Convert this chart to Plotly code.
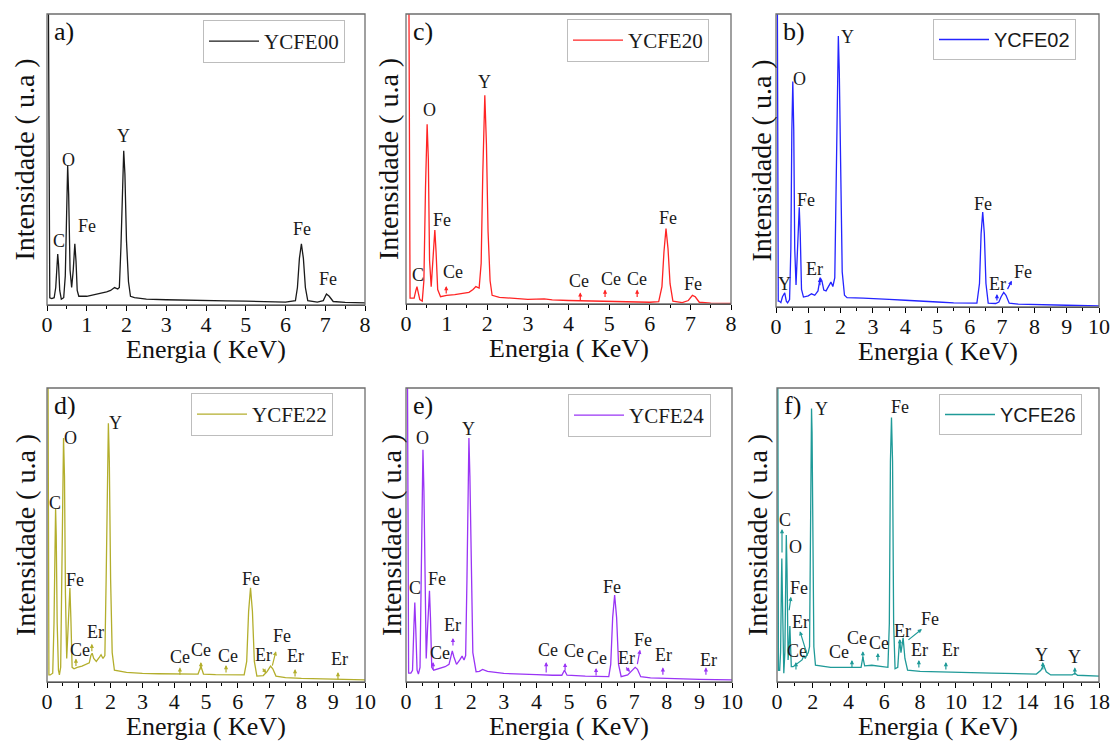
import plotly.graph_objects as go

W, H = 1113, 749

# ---------------- data (energy in KeV, intensity in % of panel height) ----------------
E_00 = [0.02, 0.07, 0.12, 0.18, 0.22, 0.25, 0.27, 0.29, 0.32, 0.36, 0.42, 0.46, 0.49, 0.52, 0.545, 0.58, 0.62, 0.66, 0.70, 0.73, 0.76, 0.8,
        1.0, 1.2, 1.4, 1.5, 1.6, 1.7, 1.78, 1.82, 1.86, 1.9, 1.93, 1.96, 2.0, 2.05, 2.1, 2.2, 2.5, 3.0, 3.5, 4.0, 4.5, 5.0, 5.5, 6.0,
        6.25, 6.3, 6.35, 6.4, 6.45, 6.5, 6.56, 6.8, 6.95, 7.03, 7.1, 7.2, 7.5, 8.0]
I_00 = [150, 2.5, 2.2, 2.5, 6, 15, 17.5, 14, 5, 2, 2.5, 10, 36, 48, 38, 12, 6, 12, 21, 15, 5, 3,
        3, 3.5, 4, 4.5, 5, 6, 5.5, 6, 20, 45, 53, 45, 22, 8, 3, 2.5, 2, 1.8, 1.6, 1.5, 1.4, 1.3, 1.2, 1.0,
        1.5, 6, 16, 21, 16, 6, 1.5, 1.0, 1.5, 3.8, 3, 1.2, 0.9, 0.7]

E_20 = [0.06, 0.1, 0.15, 0.2, 0.24, 0.27, 0.3, 0.34, 0.4, 0.44, 0.48, 0.52, 0.55, 0.58, 0.62, 0.66, 0.71, 0.74, 0.78, 0.85,
        1.0, 1.2, 1.4, 1.55, 1.65, 1.72, 1.8, 1.85, 1.89, 1.94, 1.98, 2.02, 2.07, 2.12, 2.3, 2.7, 3.0, 3.4, 3.6, 4.0, 4.5, 5.0, 5.5, 6.0,
        6.22, 6.3, 6.35, 6.4, 6.45, 6.5, 6.57, 6.8, 6.95, 7.05, 7.12, 7.22, 7.5, 8.0]
I_20 = [150, 2, 2, 2, 4.5, 6, 4, 1.5, 1, 8, 40, 62, 50, 15, 6, 15, 25.5, 18, 5, 2.5,
        3, 3.2, 3.6, 4, 5, 6, 5.5, 14, 45, 72, 55, 25, 8, 3, 2.3, 2, 1.6, 1.8, 1.4, 1.2, 1.0, 0.9, 0.8, 0.6,
        0.8, 6, 18, 26, 19, 7, 1, 0.5, 1.2, 3, 2.5, 0.6, 0.3, 0.2]

E_02 = [0.03, 0.07, 0.1, 0.15, 0.2, 0.27, 0.32, 0.36, 0.42, 0.46, 0.49, 0.52, 0.55, 0.58, 0.62, 0.67, 0.72, 0.75, 0.79, 0.85,
        1.0, 1.1, 1.2, 1.3, 1.37, 1.42, 1.48, 1.55, 1.65, 1.7, 1.76, 1.82, 1.86, 1.9, 1.93, 1.96, 2.0, 2.05, 2.12, 2.2, 2.7, 3.0, 3.5,
        4.0, 4.5, 5.0, 5.5, 6.0, 6.22, 6.3, 6.35, 6.4, 6.45, 6.5, 6.57, 6.8, 6.9, 6.97, 7.05, 7.12, 7.22, 7.5, 8.0, 9.0, 10.0]
I_02 = [150, 2, 2, 1.5, 3.5, 4.8, 2, 1.4, 2.5, 20, 60, 77, 60, 20, 7.5, 20, 34, 25, 6, 3.4,
        3.8, 4.5, 4, 5.5, 10, 9, 5.8, 5.5, 7.5, 8.5, 7, 10, 40, 80, 92.5, 80, 40, 12, 4, 3.2, 3, 2.9, 2.6,
        2.3, 2.1, 1.7, 1.4, 1.2, 1.3, 8, 25, 32.4, 25, 8, 1.3, 1.2, 1.7, 3.5, 5, 4, 1.3, 1.0, 0.8, 0.6, 0.4]

E_22 = [0.02, 0.06, 0.1, 0.18, 0.22, 0.25, 0.27, 0.29, 0.32, 0.36, 0.39, 0.43, 0.46, 0.49, 0.52, 0.55, 0.58, 0.62, 0.66, 0.72, 0.75, 0.79,
        0.85, 0.95, 1.1, 1.25, 1.33, 1.38, 1.42, 1.47, 1.55, 1.65, 1.7, 1.76, 1.82, 1.86, 1.9, 1.93, 1.96, 2.0, 2.05, 2.12, 2.5, 3.0,
        3.5, 4.0, 4.5, 4.75, 4.84, 4.92, 5.3, 5.8, 6.2, 6.28, 6.34, 6.4, 6.46, 6.52, 6.6, 6.8, 6.92, 7.03, 7.1, 7.2, 7.5, 8.0, 9.0, 10.0]
I_22 = [150, 2.4, 2.4, 3, 20, 50, 59, 50, 20, 4, 2.4, 5, 30, 70, 83, 70, 30, 8, 18, 32, 22, 5,
        4.5, 5, 5.4, 6, 6.5, 9, 9.8, 8, 7, 8.5, 9.3, 8, 9, 35, 75, 88, 75, 35, 10, 4, 3.3, 2.9,
        2.8, 2.7, 2.6, 2.7, 5.4, 2.7, 2.5, 2.4, 2.4, 7, 24, 32, 24, 7, 2, 2.2, 3.5, 5.4, 4.5, 2, 1.5, 1.2, 1.0, 0.7]

E_24 = [0.03, 0.08, 0.15, 0.2, 0.24, 0.27, 0.3, 0.34, 0.38, 0.43, 0.46, 0.49, 0.52, 0.55, 0.58, 0.62, 0.66, 0.72, 0.75, 0.79, 0.85,
        1.0, 1.2, 1.32, 1.38, 1.42, 1.47, 1.55, 1.65, 1.72, 1.78, 1.83, 1.87, 1.9, 1.93, 1.96, 2.0, 2.05, 2.15, 2.25, 2.35, 2.5, 3.0,
        3.5, 4.0, 4.5, 4.78, 4.86, 4.94, 5.5, 6.0, 6.22, 6.28, 6.34, 6.4, 6.46, 6.52, 6.6, 6.8, 6.92, 7.03, 7.1, 7.2, 7.5, 8.0, 9.0, 10.0]
I_24 = [150, 3, 3, 4, 18, 27, 18, 4, 2.7, 5, 30, 65, 79, 65, 30, 8, 18, 31, 22, 5, 4,
        4.6, 5.2, 6, 9.5, 10.6, 8.5, 6, 7.5, 8.8, 7.5, 9, 35, 70, 83, 70, 35, 10, 3.5, 3.6, 4.3, 3.6, 2.9,
        2.6, 2.5, 2.3, 2.3, 4, 2.3, 2.0, 1.8, 1.8, 6, 22, 29.6, 22, 6, 1.8, 2.4, 3.8, 5, 4.3, 1.8, 1.4, 1.2, 0.9, 0.7]

E_26 = [0.03, 0.08, 0.15, 0.2, 0.25, 0.27, 0.3, 0.34, 0.38, 0.44, 0.48, 0.52, 0.56, 0.59, 0.62, 0.67, 0.72, 0.76, 0.8, 0.9,
        1.2, 1.4, 1.5, 1.58, 1.65, 1.75, 1.82, 1.87, 1.9, 1.93, 1.96, 2.0, 2.06, 2.15, 3.0, 4.0, 4.7, 4.8, 4.9, 5.3, 6.0, 6.2,
        6.28, 6.34, 6.4, 6.46, 6.52, 6.6, 6.75, 6.85, 6.93, 7.05, 7.15, 7.3, 8.0, 10.0, 12.0, 14.5, 14.75, 14.9, 15.05, 15.3,
        16.5, 16.65, 16.8, 18.0]
I_26 = [150, 4, 4, 10, 35, 42, 30, 8, 3, 10, 38, 50, 38, 12, 7.5, 12, 19, 12, 5.2, 5.2,
        6.5, 7.5, 9, 8, 9, 10, 12, 50, 85, 93, 85, 50, 12, 5.7, 5, 5, 5, 8.5, 5.5, 5.7, 5, 5,
        20, 75, 90, 75, 20, 4.5, 5, 14.3, 10, 15, 8, 4, 3.6, 3.4, 3.0, 2.7, 4, 5.8, 3.5, 2.4,
        2.4, 3.0, 2.3, 2.0]

# peak labels: (text, energy, intensity)
labels_00 = [("C", 0.3, 22), ("O", 0.55, 50), ("Fe", 1.0, 27), ("Y", 1.92, 58), ("Fe", 6.41, 26), ("Fe", 7.08, 9)]
labels_20 = [("C", 0.3, 10), ("O", 0.57, 67), ("Fe", 0.88, 29), ("Ce", 1.16, 11), ("Y", 1.92, 76.5),
             ("Ce", 4.26, 8), ("Ce", 5.05, 8.5), ("Ce", 5.69, 8.5), ("Fe", 6.45, 29.6), ("Fe", 7.07, 7)]
labels_02 = [("Y", 0.25, 8), ("O", 0.74, 77.8), ("Fe", 0.93, 36.5), ("Er", 1.18, 13), ("Y", 2.2, 92),
             ("Fe", 6.4, 35), ("Er", 6.87, 8), ("Fe", 7.65, 12)]
labels_22 = [("C", 0.26, 61), ("O", 0.75, 83), ("Fe", 0.88, 34.7), ("Ce", 1.04, 11), ("Er", 1.54, 17), ("Y", 2.14, 88),
             ("Ce", 4.18, 8.5), ("Ce", 4.84, 11), ("Ce", 5.69, 8.8), ("Fe", 6.4, 35), ("Er", 6.8, 9.2),
             ("Fe", 7.38, 15.6), ("Er", 7.8, 8.8), ("Er", 9.19, 7.8)]
labels_24 = [("C", 0.28, 32), ("O", 0.52, 83), ("Fe", 0.95, 35), ("Ce", 1.04, 10), ("Er", 1.42, 19.4), ("Y", 1.93, 86),
             ("Ce", 4.35, 11), ("Ce", 5.16, 10.6), ("Ce", 5.85, 8.2), ("Fe", 6.33, 32.3), ("Er", 6.77, 8.2),
             ("Fe", 7.27, 14.3), ("Er", 7.91, 9.2), ("Er", 9.27, 7.5)]
labels_26 = [("C", 0.45, 55), ("O", 1.06, 46), ("Fe", 1.23, 32), ("Er", 1.34, 20.4), ("Ce", 1.12, 10.5), ("Y", 2.5, 93),
             ("Ce", 3.46, 10.2), ("Ce", 4.45, 15), ("Ce", 5.7, 13.3), ("Fe", 6.87, 93.5), ("Er", 7.04, 17.3),
             ("Fe", 8.55, 21.4), ("Er", 7.99, 10.9), ("Er", 9.72, 10.9), ("Y", 14.8, 9.2), ("Y", 16.65, 8.5)]

# small marker arrows: (energy, intensity) of tip, plus pixel offset of tail
arrows_00 = []
arrows_20 = [(0.99, 6.2, 0, 9), (4.29, 4, 0, 9), (4.9, 5, 0, 9), (5.69, 5, 0, 9)]
arrows_02 = [(1.36, 10, 0, 9), (6.84, 4.4, 0, 8), (7.3, 9, -5, 10)]
arrows_22 = [(0.91, 8, 0, 9), (1.41, 13, 0, 9), (4.18, 5, 0, 9), (4.84, 6.8, 0, 9), (5.63, 5.8, 0, 9),
             (6.9, 3, -5, -6), (7.2, 10.5, -4, 16), (7.8, 4.4, 0, 9), (9.15, 3.4, 0, 9)]
arrows_24 = [(0.83, 6.8, 0, 9), (1.44, 15, 0, 9), (4.3, 6.8, 0, 12), (4.88, 6.5, 0, 9), (5.83, 4.8, 0, 9),
             (6.87, 3.4, -5, -6), (7.18, 11, -3, 16), (7.88, 5, 0, 9), (9.2, 5, 0, 9)]
arrows_26 = [(0.28, 52, 0, 25), (0.78, 29, -2, 15), (1.28, 17.3, 8, 26), (1.06, 6.8, 0, 9), (4.19, 7.5, 0, 9),
             (4.8, 10.5, 0, 9), (5.64, 9.9, 0, 9), (6.87, 14.6, 0, 9), (8.1, 18, -15, 12), (7.93, 7.5, 0, 9),
             (9.44, 6.8, 0, 9), (14.86, 6.8, 0, 9), (16.65, 5, 0, 9)]

names = ["YCFE00", "YCFE20", "YCFE02", "YCFE22", "YCFE24", "YCFE26"]
letters = ["a)", "c)", "b)", "d)", "e)", "f)"]

# ---------------- styling / layout ----------------
SERIF = "Liberation Serif, Times New Roman, serif"
SANS = "Liberation Sans, Arial, sans-serif"
colors = ["#1a1a1a", "#ff2424", "#2424ff", "#b3ae2c", "#9a34f5", "#1f9a98"]
legend_fonts = [SERIF, SERIF, SANS, SERIF, SERIF, SANS]
xmax = [8, 8, 10, 10, 10, 18]
xdt = [1, 1, 1, 1, 1, 2]
# plot boxes in pixels: (left, right, top, bottom)
boxes = [(47, 365, 14, 305), (406, 731, 14, 304), (776, 1099, 14, 307),
         (47, 365, 388, 682), (406, 732, 388, 682), (777, 1099, 388, 682)]
legend_boxes = [(345, 20), (709, 19), (1076, 19), (333, 393), (711, 394), (1082, 394)]
ylab_x = [24, 388, 761, 25, 391, 757]

spectra = [(E_00, I_00), (E_20, I_20), (E_02, I_02), (E_22, I_22), (E_24, I_24), (E_26, I_26)]
all_labels = [labels_00, labels_20, labels_02, labels_22, labels_24, labels_26]
all_arrows = [arrows_00, arrows_20, arrows_02, arrows_22, arrows_24, arrows_26]

fig = go.Figure()
layout = dict(template="none", width=W, height=H,
              margin=dict(l=0, r=0, t=0, b=0, pad=0, autoexpand=False),
              paper_bgcolor="white", plot_bgcolor="white", showlegend=True)
annotations = []
shapes = []

for i in range(6):
    n = i + 1
    xa = "x" if n == 1 else f"x{n}"
    ya = "y" if n == 1 else f"y{n}"
    lg = "legend" if n == 1 else f"legend{n}"
    L, R, T, B = boxes[i]
    E, I = spectra[i]
    fig.add_trace(go.Scatter(x=E, y=I, mode="lines", name=names[i],
                             line=dict(color=colors[i], width=1.3),
                             xaxis=xa, yaxis=ya, legend=lg, hoverinfo="skip"))
    layout["xaxis" if n == 1 else f"xaxis{n}"] = dict(
        domain=[L / W, R / W], anchor=ya, range=[0, xmax[i]], dtick=xdt[i], tick0=0,
        automargin=False,
        showgrid=False, zeroline=False, showline=True, linecolor="black", linewidth=1.3,
        ticks="outside", ticklen=5, tickwidth=1.2, tickcolor="black", ticklabelstandoff=-6,
        minor=dict(ticks="outside", ticklen=3, tickwidth=1, tickcolor="black", dtick=xdt[i] / 2, showgrid=False),
        tickfont=dict(family=SERIF, size=22, color="#111"))
    layout["yaxis" if n == 1 else f"yaxis{n}"] = dict(
        domain=[1 - B / H, 1 - T / H], anchor=xa, range=[0, 100], automargin=False,
        showgrid=False, zeroline=False, showline=False, showticklabels=False, ticks="")
    shapes.append(dict(type="rect", xref=f"{xa} domain", yref=f"{ya} domain", x0=0, x1=1, y0=0, y1=1,
                       line=dict(color="#6e6e6e", width=1.3), layer="above"))
    lx, ly = legend_boxes[i]
    layout[lg] = dict(x=lx / W, y=1 - ly / H, xanchor="right", yanchor="top",
                      bordercolor="#bdbdbd", borderwidth=1, bgcolor="white",
                      font=dict(family=legend_fonts[i], size=21 if legend_fonts[i] == SERIF else 20, color="#1a1a1a"),
                      itemwidth=50, tracegroupgap=0)
    # panel letter
    annotations.append(dict(xref="paper", yref="paper", x=(L + 5) / W, y=1 - (T + 18) / H,
                            xanchor="left", yanchor="middle", showarrow=False, text=letters[i],
                            font=dict(family=SERIF, size=26, color="#111")))
    # axis titles
    annotations.append(dict(xref="paper", yref="paper", x=(L + R) / 2 / W, y=1 - (B + 44) / H,
                            xanchor="center", yanchor="middle", showarrow=False, text="Energia ( KeV)",
                            font=dict(family=SERIF, size=26, color="#111")))
    annotations.append(dict(xref="paper", yref="paper", x=ylab_x[i] / W, y=1 - (T + B) / 2 / H,
                            xanchor="center", yanchor="middle", showarrow=False, text="Intensidade ( u.a )",
                            textangle=-90, font=dict(family=SERIF, size=28, color="#111")))
    for (t, ex, iy) in all_labels[i]:
        annotations.append(dict(xref=xa, yref=ya, x=ex, y=iy, text=t, showarrow=False,
                                xanchor="center", yanchor="middle",
                                font=dict(family=SERIF, size=18, color="#1a1a1a")))
    for (ex, iy, axp, ayp) in all_arrows[i]:
        annotations.append(dict(xref=xa, yref=ya, x=ex, y=iy, text="", showarrow=True,
                                ax=axp, ay=ayp, arrowhead=2, arrowsize=0.7, arrowwidth=1.2,
                                arrowcolor=colors[i], standoff=0, startstandoff=0))

layout["annotations"] = annotations
layout["shapes"] = shapes
fig.update_layout(**layout)
fig.write_html("out.html", config={"displayModeBar": False},
               post_script="document.body.style.margin='0';document.body.style.overflow='hidden';")
